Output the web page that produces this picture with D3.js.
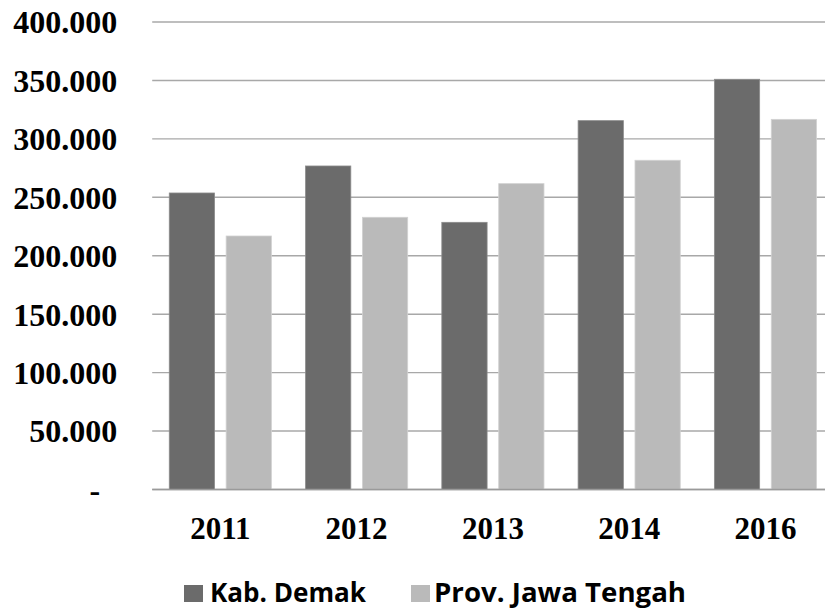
<!DOCTYPE html>
<html>
<head>
<meta charset="utf-8">
<script src="https://cdn.jsdelivr.net/npm/d3@7"></script>
<style>
  body { margin: 0; background: #fff; }
  svg { display: block; }
</style>
</head>
<body>
<script>
//data
var years = ['2011', '2012', '2013', '2014', '2016'];
var demak = [253700, 276800, 228600, 315600, 351000];
var jateng = [216900, 232900, 261700, 281700, 316700];
var seriesNames = ['Kab. Demak', 'Prov. Jawa Tengah'];
var yTicks = [0, 50000, 100000, 150000, 200000, 250000, 300000, 350000, 400000];

//settings
var settings = {
  width: 825,
  height: 609,
  left: 152.2,
  right: 833.6,
  top: 22,
  bottom: 489.5,
  colors: ['#6b6b6b', '#bababa'],
  grid: '#a8a8a8'
};

var idLocale = d3.formatLocale({decimal: ',', thousands: '.', grouping: [3], currency: ['Rp', '']});
var fmt = idLocale.format(',.0f');

var svg = d3.select('body').append('svg')
  .attr('width', settings.width)
  .attr('height', settings.height);

var x0 = d3.scaleBand()
  .domain(years)
  .range([settings.left, settings.right])
  .padding(0);

var x1 = d3.scaleBand()
  .domain(seriesNames)
  .range([0, x0.bandwidth()])
  .paddingInner(0.204)
  .paddingOuter(0.3);

var y = d3.scaleLinear()
  .domain([0, 400000])
  .range([settings.bottom, settings.top]);

//gridlines
svg.append('g').attr('class', 'grid')
  .selectAll('line')
  .data(yTicks)
  .enter()
  .append('line')
  .attr('x1', settings.left).attr('x2', settings.right)
  .attr('y1', function(d) { return y(d); })
  .attr('y2', function(d) { return y(d); })
  .attr('stroke', settings.grid)
  .attr('stroke-width', 1.4);

//bars
var rows = years.map(function(yr, i) {
  return {year: yr, values: [demak[i], jateng[i]]};
});

var groups = svg.append('g').selectAll('g')
  .data(rows)
  .enter()
  .append('g')
  .attr('transform', function(d) { return 'translate(' + x0(d.year) + ',0)'; });

groups.selectAll('rect')
  .data(function(d) { return d.values.map(function(v, k) { return {key: seriesNames[k], value: v, k: k}; }); })
  .enter()
  .append('rect')
  .attr('x', function(d) { return x1(d.key); })
  .attr('y', function(d) { return y(d.value); })
  .attr('width', x1.bandwidth())
  .attr('height', function(d) { return y(0) - y(d.value); })
  .attr('fill', function(d) { return settings.colors[d.k]; })
  .attr('stroke', function(d) { return d.k === 0 ? '#8c8c8c' : '#d2d2d2'; })
  .attr('stroke-width', 0.8);

//baseline
svg.append('line')
  .attr('x1', settings.left).attr('x2', settings.right)
  .attr('y1', y(0)).attr('y2', y(0))
  .attr('stroke', '#9a9a9a')
  .attr('stroke-width', 1.5);

//y axis
var yAxis = svg.append('g')
  .attr('transform', 'translate(' + settings.left + ',0)')
  .call(d3.axisLeft(y)
    .tickValues(yTicks)
    .tickSize(0)
    .tickPadding(35)
    .tickFormat(function(d) { return d === 0 ? '-' : fmt(d); }));
yAxis.select('.domain').remove();
yAxis.selectAll('text')
  .attr('fill', '#000')
  .style('font-family', '"Liberation Serif", "Times New Roman", serif')
  .style('font-weight', 'bold')
  .style('font-size', '32px')
  .attr('dy', '0.34em');
yAxis.selectAll('.tick')
  .filter(function(d) { return d === 0; })
  .select('text')
  .attr('x', -52);

//x axis
var xAxis = svg.append('g')
  .attr('transform', 'translate(0,' + settings.bottom + ')')
  .call(d3.axisBottom(x0).tickSize(0));
xAxis.select('.domain').remove();
xAxis.selectAll('text')
  .attr('fill', '#000')
  .attr('y', 49.5)
  .attr('dy', 0)
  .style('font-family', '"Liberation Serif", "Times New Roman", serif')
  .style('font-weight', 'bold')
  .style('font-size', '31px');

//legend
var legendX = [184, 411];
var legendW = [156, 252];
var legend = svg.append('g').selectAll('g')
  .data(seriesNames)
  .enter()
  .append('g')
  .attr('transform', function(d, i) { return 'translate(' + legendX[i] + ',585)'; });

legend.append('rect')
  .attr('width', 19).attr('height', 17)
  .attr('fill', function(d, i) { return settings.colors[i]; });

legend.append('text')
  .attr('x', function(d, i) { return i === 0 ? 26 : 23; })
  .attr('y', 17.3)
  .attr('textLength', function(d, i) { return legendW[i]; })
  .attr('lengthAdjust', 'spacingAndGlyphs')
  .style('font-family', '"Open Sans", "Noto Sans", sans-serif')
  .style('font-weight', 700)
  .style('font-size', '26px')
  .attr('fill', '#000')
  .text(function(d) { return d; });
</script>
</body>
</html>
